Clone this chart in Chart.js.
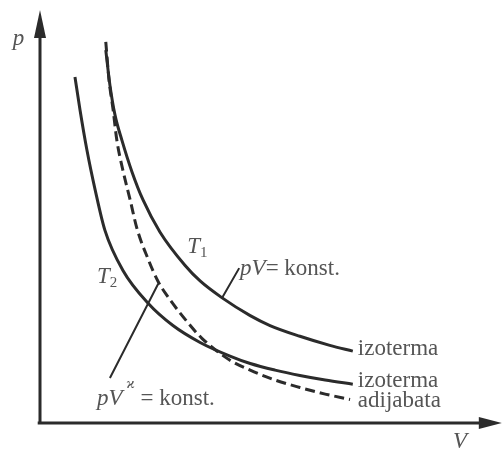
<!DOCTYPE html>
<html lang="sr">

<head>
	<meta charset="UTF-8">
	<title>p-V dijagram</title>
	<script src="https://cdn.jsdelivr.net/npm/chart.js"></script>
	<style>
		body { margin: 0; background: #fff; }
	</style>
</head>

<body>
	<canvas id="ctx" width="503" height="450"></canvas>

	<script>
		// values (V and p in arbitrary units)
		const isoT1V = [1.43, 1.52, 1.63, 1.78, 2.00, 2.24, 2.61, 3.15, 3.48, 3.96, 4.57, 5.00, 5.65, 6.30, 6.80];
		const isoT1p = [9.03, 8.18, 7.46, 6.85, 6.08, 5.40, 4.62, 3.82, 3.44, 3.03, 2.60, 2.36, 2.10, 1.88, 1.74];

		const isoT2V = [0.76, 0.87, 1.02, 1.20, 1.41, 1.80, 2.35, 2.89, 3.48, 4.13, 4.57, 5.11, 5.65, 6.20, 6.80];
		const isoT2p = [8.38, 7.58, 6.61, 5.64, 4.67, 3.70, 2.90, 2.36, 1.95, 1.62, 1.44, 1.28, 1.15, 1.04, 0.94];

		const adiaV = [1.43, 1.50, 1.59, 1.67, 1.80, 1.96, 2.11, 2.35, 2.57, 2.83, 3.20, 3.52, 4.13, 4.57, 5.11, 5.65, 6.20, 6.74];
		const adiap = [9.23, 8.31, 7.58, 6.85, 6.13, 5.40, 4.70, 3.97, 3.42, 2.98, 2.45, 2.05, 1.52, 1.28, 1.04, 0.86, 0.70, 0.57];

		const curveLabels = ['izoterma', 'izoterma', 'adijabata'];

		function pts(xs, ys) {
			return xs.map((x, i) => ({ x: x, y: ys[i] }));
		}

		const ink = '#2b2b2b';
		const txt = '#555';
		const serif = '"Liberation Serif", "DejaVu Serif", serif';

		// draws a list of [text, italic, dy, size] runs starting at pixel x,y
		function runs(c, x, y, parts, size) {
			for (const [s, it, dy, sz] of parts) {
				c.font = (it ? 'italic ' : '') + (sz || size) + 'px ' + serif;
				c.fillText(s, x, y + (dy || 0));
				x += c.measureText(s).width;
			}
		}

		const overlay = {
			id: 'overlay',
			afterDatasetsDraw(chart) {
				const c = chart.ctx;
				const sx = chart.scales.x, sy = chart.scales.y;
				const X = v => sx.getPixelForValue(v);
				const Y = v => sy.getPixelForValue(v);
				c.save();

				// axes with arrows
				c.strokeStyle = ink;
				c.fillStyle = ink;
				c.lineWidth = 3;
				c.beginPath();
				c.moveTo(X(0), Y(0));
				c.lineTo(X(0), Y(9.4));
				c.moveTo(X(-0.05), Y(0));
				c.lineTo(X(9.6), Y(0));
				c.stroke();
				c.beginPath();
				c.moveTo(X(0), Y(10));
				c.lineTo(X(0) - 6, Y(9.32));
				c.lineTo(X(0) + 6, Y(9.32));
				c.closePath();
				c.fill();
				c.beginPath();
				c.moveTo(X(10.04), Y(0));
				c.lineTo(X(9.54), Y(0) - 6);
				c.lineTo(X(9.54), Y(0) + 6);
				c.closePath();
				c.fill();

				// leader lines
				c.lineWidth = 2;
				c.beginPath();
				c.moveTo(X(3.96), Y(3.03));
				c.lineTo(X(4.33), Y(3.75));
				c.moveTo(X(1.52), Y(1.09));
				c.lineTo(X(2.57), Y(3.37));
				c.stroke();

				// texts
				c.fillStyle = txt;
				c.textBaseline = 'alphabetic';
				const f = 23;
				runs(c, X(-0.59), Y(9.15), [['p', true]], f);
				runs(c, X(8.98), Y(-0.61), [['V', true]], f);
				runs(c, X(3.20), Y(4.12), [['T', true], ['1', false, 4, 15]], f);
				runs(c, X(1.24), Y(3.39), [['T', true], ['2', false, 4, 15]], f);
				runs(c, X(4.35), Y(3.58), [['p', true], ['V', true], ['= konst.', false]], f);
				runs(c, X(1.24), Y(0.44), [['p', true], ['V', true], [' \u03f0', true, -17, 15], [' = konst.', false]], f);
				c.font = f + 'px ' + serif;
				c.fillText(curveLabels[0], X(6.91), Y(1.65));
				c.fillText(curveLabels[1], X(6.91), Y(0.87));
				c.fillText(curveLabels[2], X(6.91), Y(0.39));
				c.restore();
			}
		};

		const line = {
			showLine: true,
			pointRadius: 0,
			borderColor: ink,
			borderWidth: 3,
			cubicInterpolationMode: 'monotone',
			fill: false
		};

		new Chart(document.getElementById('ctx'), {
			type: 'scatter',
			data: {
				datasets: [
					Object.assign({ label: 'T1', data: pts(isoT1V, isoT1p) }, line),
					Object.assign({ label: 'T2', data: pts(isoT2V, isoT2p) }, line),
					Object.assign({ label: 'adijabata', data: pts(adiaV, adiap), borderDash: [10, 5] }, line)
				]
			},
			options: {
				responsive: false,
				animation: false,
				layout: { padding: { left: 40, right: 3, top: 10, bottom: 27 } },
				plugins: { legend: { display: false }, tooltip: { enabled: false } },
				scales: {
					x: { type: 'linear', min: 0, max: 10, display: false },
					y: { type: 'linear', min: 0, max: 10, display: false }
				}
			},
			plugins: [overlay]
		});
	</script>
</body>

</html>
